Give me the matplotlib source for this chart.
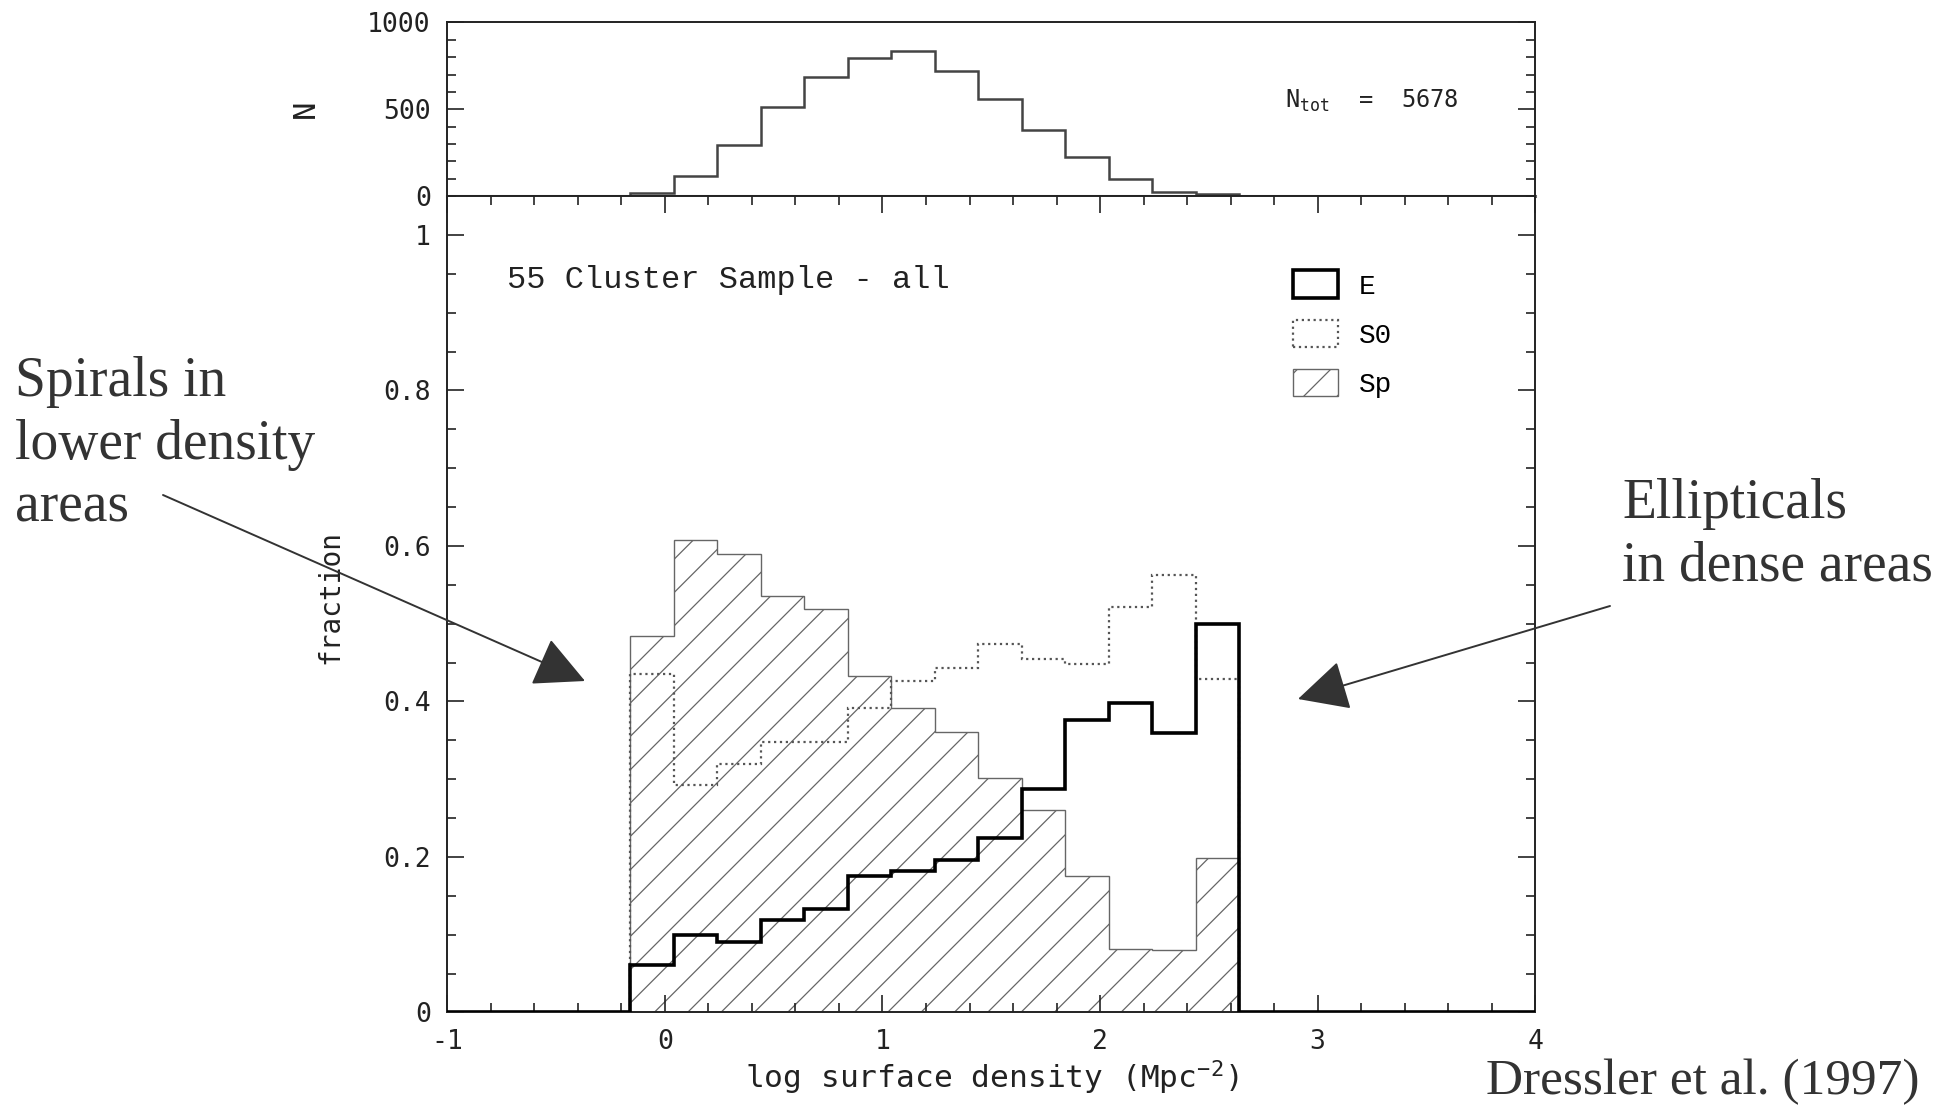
import numpy as np
import matplotlib
matplotlib.use("Agg")
import matplotlib.pyplot as plt
from matplotlib.patches import Patch
from matplotlib.ticker import MultipleLocator, FuncFormatter

# bin edges, log surface density (Mpc^-2)
bin_edges = [-0.16, 0.04, 0.24, 0.44, 0.64, 0.84, 1.04, 1.24,
             1.44, 1.64, 1.84, 2.04, 2.24, 2.44, 2.64]

# galaxies per bin (top panel)
n_counts = [19, 117, 294, 512, 685, 795, 836, 719, 560, 379, 224, 96, 23, 11]
n_total = 5678

# morphological fractions per bin
frac_E = [0.061, 0.099, 0.090, 0.119, 0.133, 0.176, 0.182,
          0.196, 0.225, 0.287, 0.376, 0.398, 0.360, 0.500]
frac_S0 = [0.435, 0.293, 0.320, 0.348, 0.348, 0.392, 0.426,
           0.443, 0.474, 0.455, 0.448, 0.521, 0.563, 0.429]
frac_Sp = [0.484, 0.608, 0.589, 0.535, 0.519, 0.433, 0.392,
           0.361, 0.302, 0.260, 0.176, 0.081, 0.080, 0.199]

x_range = (-1, 4)

mono = "DejaVu Sans Mono"
serif_mono = "Liberation Mono"
times = "Liberation Serif"
ink = "#222222"

plt.rcParams["hatch.linewidth"] = 0.9

fig = plt.figure(figsize=(19.59, 11.07), dpi=100)
ax_n = fig.add_axes([0.2284, 0.8229, 0.5552, 0.1568])
ax = fig.add_axes([0.2284, 0.0854, 0.5552, 0.7375])

# top panel: N histogram
ax_n.stairs(n_counts, bin_edges, color="#444444", lw=1.8)
ax_n.set_xlim(x_range)
ax_n.set_ylim(0, 1000)
ax_n.yaxis.set_major_locator(MultipleLocator(500))
ax_n.yaxis.set_minor_locator(MultipleLocator(100))
ax_n.tick_params(axis="x", which="both", bottom=False, top=False, labelbottom=False)
ax_n.tick_params(axis="y", which="both", direction="in", left=True, right=True,
                 colors=ink, labelsize=19, pad=12)
ax_n.tick_params(axis="y", which="major", length=12.5, width=1.2)
ax_n.tick_params(axis="y", which="minor", length=6.5, width=1.2)
ax_n.set_ylabel("N", fontsize=22, family=mono, color=ink)
ax_n.yaxis.set_label_coords(-0.117, 0.5)
ax_n.text(2.85, 547, "N$_{\\mathregular{tot}}$  =  %d" % n_total, fontsize=17,
          family=mono, color=ink, va="center")

# bottom panel: fractions
ax.stairs(frac_Sp, bin_edges, fill=True, facecolor="white", edgecolor="#666666",
          hatch="/", lw=1.0, zorder=1)
ax.stairs(frac_S0, bin_edges, color="#555555", lw=1.6, linestyle=":", zorder=2)
ax.stairs(np.r_[0, frac_E, 0], np.r_[x_range[0], bin_edges, x_range[1]],
          color="black", lw=2.6, zorder=3)
ax.set_xlim(x_range)
ax.set_ylim(0, 1.05)
ax.xaxis.set_major_locator(MultipleLocator(1))
ax.xaxis.set_minor_locator(MultipleLocator(0.2))
ax.yaxis.set_major_locator(MultipleLocator(0.2))
ax.yaxis.set_minor_locator(MultipleLocator(0.05))
ax.xaxis.set_major_formatter(FuncFormatter(lambda v, _: "%g" % v))
ax.yaxis.set_major_formatter(FuncFormatter(lambda v, _: "%g" % round(v, 2)))
ax.tick_params(which="both", direction="in", top=True, right=True,
               colors=ink, labelsize=19, pad=12)
ax.tick_params(which="major", length=12.5, width=1.2)
ax.tick_params(which="minor", length=6.5, width=1.2)

ax.set_xlabel("log surface density (Mpc$^{\\mathregular{-2}}$)", fontsize=22.5,
              family=mono, color=ink)
ax.xaxis.set_label_coords(0.5, -0.056)
ax.set_ylabel("fraction", fontsize=20, family=mono, color=ink)
ax.yaxis.set_label_coords(-0.095, 0.509)

for a in (ax, ax_n):
    for s in a.spines.values():
        s.set_linewidth(1.4)
        s.set_color(ink)
    for lab in a.get_xticklabels() + a.get_yticklabels():
        lab.set_family(mono)
ax_n.spines["bottom"].set_color("#666666")
ax_n.spines["bottom"].set_linewidth(2.2)

ax.text(-0.724, 0.942, "55 Cluster Sample - all", fontsize=23,
        family=serif_mono, color=ink, va="center")

handles = [Patch(facecolor="none", edgecolor="black", lw=2.6),
           Patch(facecolor="none", edgecolor="#555555", lw=1.6, linestyle=":"),
           Patch(facecolor="white", edgecolor="#666666", lw=1.0, hatch="/")]
ax.legend(handles, ["E", "S0", "Sp"], loc="upper left", bbox_to_anchor=(0.777, 0.909),
          frameon=False, borderpad=0, prop={"family": serif_mono, "size": 20},
          handlelength=1.65, handleheight=1.15, labelspacing=0.72,
          handletextpad=0.75, borderaxespad=0)

# annotations outside the axes
arrow = dict(arrowstyle="-|>,head_length=1.6,head_width=0.8", mutation_scale=20,
             color="#333333", lw=1.4, shrinkA=0, shrinkB=0)
W, H = 1959.0, 1107.0
fig.text(15 / W, 1 - 356 / H, "Spirals in\nlower density\nareas", fontsize=40,
         family=times, color="#333333", va="top", ha="left", linespacing=1.27)
fig.text(1622 / W, 1 - 478 / H, "Ellipticals\nin dense areas", fontsize=40,
         family=times, color="#333333", va="top", ha="left", linespacing=1.27)
fig.text(1920 / W, 1 - 1082 / H, "Dressler et al. (1997)", fontsize=37,
         family=times, color="#333333", va="center", ha="right")
ax.annotate("", xy=(585 / W, 1 - 681 / H), xycoords="figure fraction",
            xytext=(163 / W, 1 - 495 / H), textcoords="figure fraction",
            arrowprops=arrow, annotation_clip=False)
ax.annotate("", xy=(1298 / W, 1 - 699 / H), xycoords="figure fraction",
            xytext=(1610 / W, 1 - 606 / H), textcoords="figure fraction",
            arrowprops=arrow, annotation_clip=False)

fig.savefig("out.png", dpi=100, facecolor="white")
